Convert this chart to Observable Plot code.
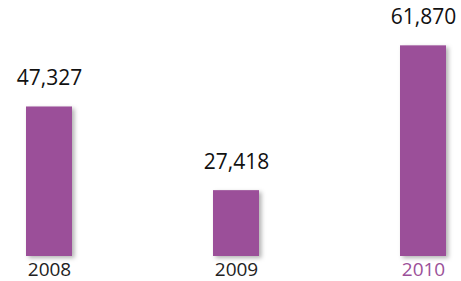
<!DOCTYPE html>
<html>
<head>
<meta charset="utf-8">
<script src="https://cdn.jsdelivr.net/npm/d3@7"></script>
<script src="https://cdn.jsdelivr.net/npm/@observablehq/plot@0.6"></script>
<style>
  html, body { margin: 0; padding: 0; background: #fff; }
  #chart svg { display: block; }
</style>
</head>
<body>
<div id="chart"></div>
<script>
const years = ["2008", "2009", "2010"];
const values = [47327, 27418, 61870];

const data = years.map((year, i) => ({ year, value: values[i] }));
const purple = "#9b5099";

const chart = Plot.plot({
  width: 461,
  height: 281,
  marginTop: 0,
  marginBottom: 25,
  marginLeft: 25,
  marginRight: 14,
  style: { fontFamily: "'Open Sans', sans-serif", background: "#fff" },
  x: { domain: years, paddingInner: 0.755, paddingOuter: 0, axis: null },
  y: { domain: [11750, 72660], axis: null },
  marks: [
    Plot.barY(data, { x: "year", y1: 11750, y2: "value", fill: purple }),
    Plot.text(data, {
      x: "year", y: "value", text: d => d3.format(",")(d.value),
      lineAnchor: "bottom", dy: -22, fontSize: 21, fill: "#111"
    }),
    Plot.text(data, {
      x: "year", frameAnchor: "bottom", text: "year",
      lineAnchor: "top", dy: 6, fontSize: 19,
      fill: d => d.year === "2010" ? purple : "#222"
    })
  ]
});

// soft drop shadow on the bars
const svg = d3.select(chart);
const defs = svg.insert("defs", ":first-child");
const f = defs.append("filter").attr("id", "barshadow")
  .attr("x", "-20%").attr("y", "-20%").attr("width", "150%").attr("height", "150%");
f.append("feDropShadow").attr("dx", 2.5).attr("dy", 2).attr("stdDeviation", 2)
  .attr("flood-color", "#000").attr("flood-opacity", 0.3);
svg.select("g[aria-label='bar']").attr("filter", "url(#barshadow)");

document.getElementById("chart").appendChild(chart);
</script>
</body>
</html>
